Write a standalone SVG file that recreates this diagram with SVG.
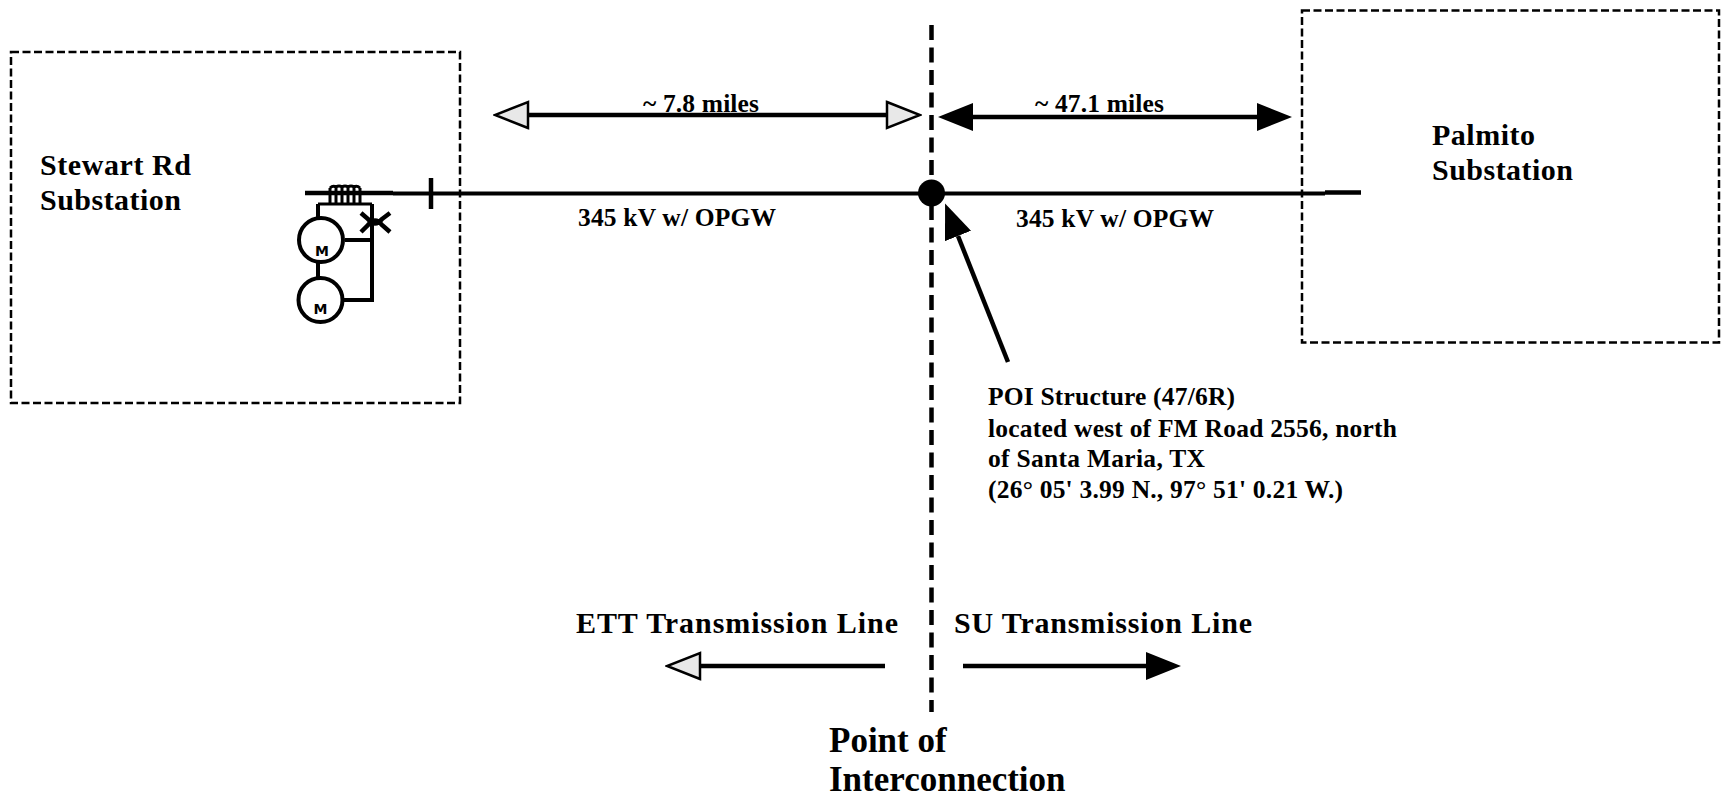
<svg xmlns="http://www.w3.org/2000/svg" width="1721" height="800" viewBox="0 0 1721 800">
<style>
text{font-family:"Liberation Serif","Times New Roman",serif;font-weight:bold;fill:#000}
.t1{font-size:25.5px}.t2{font-size:25.5px}.t3{font-size:30px}.t4{font-size:35px}
.m{font-family:"DejaVu Sans",sans-serif;font-size:14px}
.box{fill:none;stroke:#000;stroke-width:2.5;stroke-dasharray:8 3.5}
.ln{fill:none;stroke:#000;stroke-width:4.5}
.lw{fill:none;stroke:#000;stroke-width:4}
</style>
<defs>
<marker id="solid" markerUnits="userSpaceOnUse" viewBox="0 0 35 28" refX="0" refY="14" markerWidth="35" markerHeight="28" orient="auto-start-reverse"><path d="M0 0L35 14L0 28Z" fill="#000"/></marker>
<marker id="hollow" markerUnits="userSpaceOnUse" viewBox="-2 -2 37 30" refX="0" refY="13" markerWidth="37" markerHeight="30" orient="auto-start-reverse"><path d="M0 0L33 13L0 26Z" fill="#e8e8e8" stroke="#000" stroke-width="2.5"/></marker>
</defs>
<g id="stewart-rd-substation">
<rect class="box" x="11" y="52" width="449" height="351"/>
<text class="t3" x="40" y="175" textLength="151">Stewart Rd</text>
<text class="t3" x="40" y="210" textLength="141">Substation</text>
</g>
<g id="palmito-substation">
<rect class="box" x="1302" y="10.5" width="417" height="332"/>
<text class="t3" x="1432" y="145" textLength="103">Palmito</text>
<text class="t3" x="1432" y="180" textLength="141">Substation</text>
</g>
<g id="connectors">
<path d="M393 193.5H1325" fill="none" stroke="#000" stroke-width="4"/>
<path class="ln" d="M305 193H393M1325 192.5H1361"/>
<path d="M931.5 25V712" fill="none" stroke="#000" stroke-width="4.5" stroke-dasharray="15 7.5"/>
<path class="ln" d="M528 115H887" marker-start="url(#hollow)" marker-end="url(#hollow)"/>
<path class="ln" d="M973 117H1257" marker-start="url(#solid)" marker-end="url(#solid)"/>
<path class="ln" d="M1008 362L958 236" marker-end="url(#solid)"/>
<path class="ln" d="M885 666H700" marker-end="url(#hollow)"/>
<path class="ln" d="M963 666H1146" marker-end="url(#solid)"/>
</g>
<g id="poi-dot"><circle cx="931.5" cy="193" r="13.5" fill="#000"/></g>
<g id="tick"><path d="M431 178V209" fill="none" stroke="#000" stroke-width="4.5"/></g>
<g id="generators">
<path fill="none" stroke="#000" stroke-width="3" d="M330 204V188M336 204V187M342 204V187M348 204V187M354 204V187M360 204V188M330 188Q333 185 336 187Q339 185 342 187Q345 185 348 187Q351 185 354 187Q357 185 360 188M318 204H372"/>
<path class="lw" d="M318 219V204M372 204V300H343M345 240H372M318 263V277"/>
<circle class="lw" cx="321" cy="240" r="22"/>
<circle class="lw" cx="320.5" cy="300" r="22"/>
<path fill="none" stroke="#000" stroke-width="4.5" d="M361 232L368 225Q375 216 382 225L390 232M361 213L368 219Q375 228 382 219L390 213"/>
<text class="m" x="322" y="256" text-anchor="middle">M</text>
<text class="m" x="320.5" y="314" text-anchor="middle">M</text>
</g>
<g id="labels">
<text class="t1" x="643" y="112" textLength="116">~ 7.8 miles</text>
<text class="t1" x="1035" y="112" textLength="129">~ 47.1 miles</text>
<text class="t1" x="578" y="226" textLength="198">345 kV w/ OPGW</text>
<text class="t1" x="1016" y="227" textLength="198">345 kV w/ OPGW</text>
<text class="t2" x="988" y="405" textLength="247">POI Structure (47/6R)</text>
<text class="t2" x="988" y="437" textLength="409">located west of FM Road 2556, north</text>
<text class="t2" x="988" y="467" textLength="217">of Santa Maria, TX</text>
<text class="t2" x="988" y="498" textLength="355">(26° 05' 3.99 N., 97° 51' 0.21 W.)</text>
<text class="t3" x="576" y="633" textLength="322">ETT Transmission Line</text>
<text class="t3" x="954" y="633" textLength="298">SU Transmission Line</text>
<text class="t4" x="829" y="752">Point of</text>
<text class="t4" x="829" y="791">Interconnection</text>
</g>
</svg>
